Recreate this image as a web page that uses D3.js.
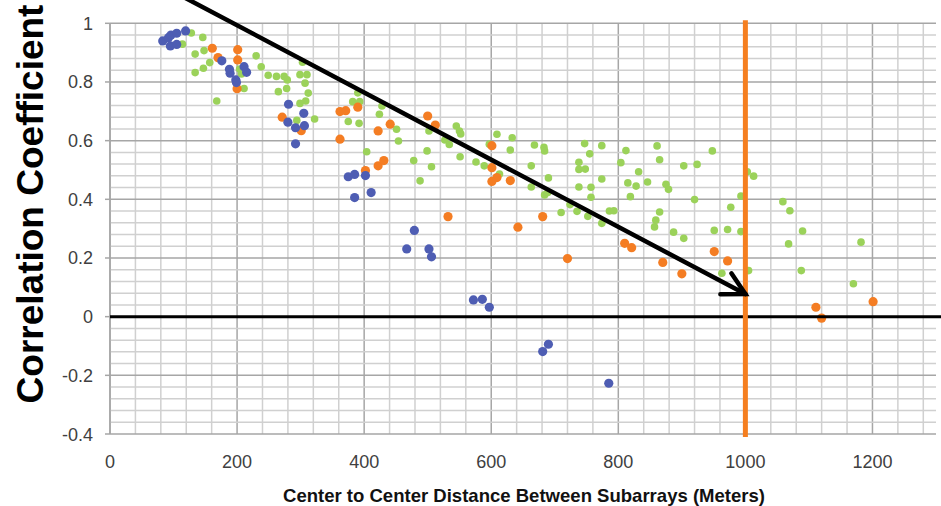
<!DOCTYPE html>
<html>
<head>
<meta charset="utf-8">
<script src="https://cdn.jsdelivr.net/npm/d3@7"></script>
<style>
  html, body { margin: 0; padding: 0; background: #fff; }
  svg { display: block; }
  text { font-family: Arial, "Liberation Sans", sans-serif; }
</style>
</head>
<body>
<svg id="chart" width="941" height="506"></svg>
<script>
// Correlation coefficient vs. center-to-center subarray distance

const xTicks = [0, 200, 400, 600, 800, 1000, 1200];
const yTicks = [-0.4, -0.2, 0, 0.2, 0.4, 0.6, 0.8, 1];
const yTickLabels = ["-0.4", "-0.2", "0", "0.2", "0.4", "0.6", "0.8", "1"];

const blueSeries = [
  [83,0.940],[92,0.951],[96,0.960],[105,0.966],[119,0.974],[95,0.923],[105,0.928],
  [176,0.872],[188,0.843],[189,0.830],[198,0.807],[199,0.798],[211,0.852],[215,0.833],
  [281,0.724],[305,0.693],[280,0.663],[292,0.644],[306,0.651],[292,0.589],
  [375,0.477],[385,0.485],[402,0.481],[385,0.406],[411,0.423],
  [479,0.294],[467,0.231],[502,0.231],[506,0.204],
  [572,0.057],[586,0.059],[597,0.032],[681,-0.119],[690,-0.094],[785,-0.227]
];

const orangeSeries = [
  [161,0.915],[170,0.883],[201,0.910],[201,0.875],[200,0.777],[271,0.680],[301,0.634],
  [362,0.699],[371,0.702],[390,0.714],[362,0.605],[422,0.633],[441,0.656],[500,0.684],
  [512,0.653],[422,0.514],[431,0.532],[402,0.498],[532,0.341],[601,0.583],[601,0.508],
  [609,0.474],[601,0.461],[630,0.464],[642,0.305],[681,0.341],[720,0.198],[810,0.250],
  [821,0.235],[870,0.185],[900,0.146],[951,0.222],[972,0.190],[1111,0.032],[1120,-0.005],
  [1201,0.051]
];

const greenSeries = [
  [128,0.967],[146,0.952],[114,0.929],[134,0.895],[148,0.907],[157,0.866],[147,0.847],
  [134,0.832],[230,0.889],[238,0.852],[249,0.823],[204,0.844],[207,0.827],[211,0.778],
  [168,0.735],[262,0.819],[274,0.819],[279,0.807],[303,0.867],[299,0.825],[310,0.825],
  [307,0.796],[312,0.762],[308,0.735],[299,0.727],[278,0.778],[265,0.767],[322,0.674],
  [294,0.669],
  [390,0.763],[382,0.733],[393,0.733],[375,0.665],[392,0.659],[428,0.718],[424,0.690],
  [451,0.639],[454,0.599],[404,0.562],[478,0.532],[488,0.463],[499,0.565],[506,0.511],
  [502,0.633],[545,0.650],[550,0.633],[552,0.623],[527,0.602],[534,0.587],[551,0.545],
  [576,0.527],[589,0.514],[597,0.588],[609,0.622],[613,0.486],[633,0.610],[630,0.568],
  [668,0.585],[683,0.577],[684,0.565],[663,0.514],[690,0.473],[663,0.442],[684,0.415],
  [689,0.423],
  [747,0.590],[774,0.583],[755,0.555],[738,0.526],[738,0.502],[748,0.503],[774,0.469],
  [738,0.442],[757,0.441],[757,0.407],[812,0.566],[804,0.525],[832,0.494],[815,0.456],
  [828,0.445],[819,0.409],[846,0.459],[861,0.582],[865,0.535],[875,0.451],[879,0.434],
  [710,0.355],[724,0.382],[735,0.359],[752,0.342],[786,0.360],[793,0.361],[774,0.318],
  [865,0.357],[859,0.329],[857,0.306],[887,0.288],[903,0.267],[951,0.294],
  [903,0.514],[924,0.519],[948,0.565],[920,0.399],[977,0.373],[993,0.411],[1003,0.494],
  [1013,0.479],[1059,0.392],[1070,0.361],[972,0.297],[993,0.290],[1090,0.292],
  [1068,0.248],[1182,0.254],[1005,0.157],[963,0.148],[1088,0.157],[1170,0.112]
];

// Trend arrow (start, tip) and threshold distance
const trendArrow = [[63, 1.15], [1000, 0.077]];
const thresholdDistance = 1000;

const W = 941, H = 506;
const svg = d3.select("#chart");
svg.append("rect").attr("width", W).attr("height", H).attr("fill", "#fff");

const x = d3.scaleLinear().domain([0, 1300]).range([110, 936]);
const y = d3.scaleLinear().domain([-0.4, 1]).range([434, 23.3]);

// Gridlines: minor every 40 m / 0.04, major every 200 m / 0.2
const g = svg.append("g");
const xMinor = d3.range(0, 1300.1, 40);
const yMinor = d3.range(-0.4, 1.0001, 0.04).map(v => +v.toFixed(2));
g.selectAll(".vminor").data(xMinor).join("line")
  .attr("x1", d => x(d)).attr("x2", d => x(d))
  .attr("y1", y(1)).attr("y2", y(-0.4))
  .attr("stroke", d => (d % 200 === 0) ? "#a6a6a6" : "#d0d0d0")
  .attr("stroke-width", 1.5);
g.selectAll(".hminor").data(yMinor).join("line")
  .attr("x1", x(0)).attr("x2", x(1300))
  .attr("y1", d => y(d)).attr("y2", d => y(d))
  .attr("stroke", d => (Math.abs(Math.round(d * 5) - d * 5) < 1e-6) ? "#a6a6a6" : "#d0d0d0")
  .attr("stroke-width", 1.5);

// Left axis line with ticks
svg.append("line")
  .attr("x1", x(0)).attr("x2", x(0)).attr("y1", y(1)).attr("y2", y(-0.4))
  .attr("stroke", "#a6a6a6").attr("stroke-width", 1.5);
svg.selectAll(".ytick").data(yTicks).join("line")
  .attr("x1", x(0) - 5).attr("x2", x(0))
  .attr("y1", d => y(d)).attr("y2", d => y(d))
  .attr("stroke", "#a6a6a6").attr("stroke-width", 1.5);

// Tick labels
svg.selectAll(".ylab").data(yTicks).join("text")
  .attr("x", 93).attr("y", d => y(d) + 6.5)
  .attr("text-anchor", "end")
  .attr("font-size", 18).attr("fill", "#404040")
  .text((d, i) => yTickLabels[i]);
svg.selectAll(".xlab").data(xTicks).join("text")
  .attr("x", d => x(d)).attr("y", 468)
  .attr("text-anchor", "middle")
  .attr("font-size", 18).attr("fill", "#404040")
  .text(d => d);

// Axis titles
svg.append("text")
  .attr("x", 524).attr("y", 501.5)
  .attr("text-anchor", "middle")
  .attr("font-size", 18.5).attr("font-weight", "bold").attr("fill", "#111")
  .attr("textLength", 482).attr("lengthAdjust", "spacingAndGlyphs")
  .text("Center to Center Distance Between Subarrays (Meters)");
svg.append("text")
  .attr("transform", "translate(43,204) rotate(-90)")
  .attr("text-anchor", "middle")
  .attr("font-size", 37).attr("font-weight", "bold").attr("fill", "#000")
  .text("Correlation Coefficient");

// Scatter points
const pts = svg.append("g");
pts.selectAll(".gp").data(greenSeries).join("circle")
  .attr("cx", d => x(d[0])).attr("cy", d => y(d[1])).attr("r", 3.8)
  .attr("fill", "#9bd25a");
pts.selectAll(".op").data(orangeSeries).join("circle")
  .attr("cx", d => x(d[0])).attr("cy", d => y(d[1])).attr("r", 4.6)
  .attr("fill", "#f47d23");
pts.selectAll(".bp").data(blueSeries).join("circle")
  .attr("cx", d => x(d[0])).attr("cy", d => y(d[1])).attr("r", 4.6)
  .attr("fill", "#4e5db3");

// Zero reference line
svg.append("line")
  .attr("x1", x(0)).attr("x2", W).attr("y1", y(0)).attr("y2", y(0))
  .attr("stroke", "#000").attr("stroke-width", 3);

// Threshold line
svg.append("line")
  .attr("x1", x(thresholdDistance)).attr("x2", x(thresholdDistance))
  .attr("y1", y(1.01)).attr("y2", y(-0.41))
  .attr("stroke", "#f57f20").attr("stroke-width", 5);

// Trend arrow with open head
const p0 = [x(trendArrow[0][0]), y(trendArrow[0][1])];
const p1 = [x(trendArrow[1][0]), y(trendArrow[1][1])];
const ang = Math.atan2(p1[1] - p0[1], p1[0] - p0[0]);
const headLen = 25, spread = 0.49;
const arrow = svg.append("g").attr("stroke", "#000").attr("stroke-width", 4.5)
  .attr("stroke-linecap", "round").attr("fill", "none");
arrow.append("line").attr("x1", p0[0]).attr("y1", p0[1]).attr("x2", p1[0]).attr("y2", p1[1]);
arrow.append("path").attr("d", d3.line()([
  [p1[0] - headLen * Math.cos(ang - spread), p1[1] - headLen * Math.sin(ang - spread)],
  p1,
  [p1[0] - headLen * Math.cos(ang + spread), p1[1] - headLen * Math.sin(ang + spread)]
]));
</script>
</body>
</html>
